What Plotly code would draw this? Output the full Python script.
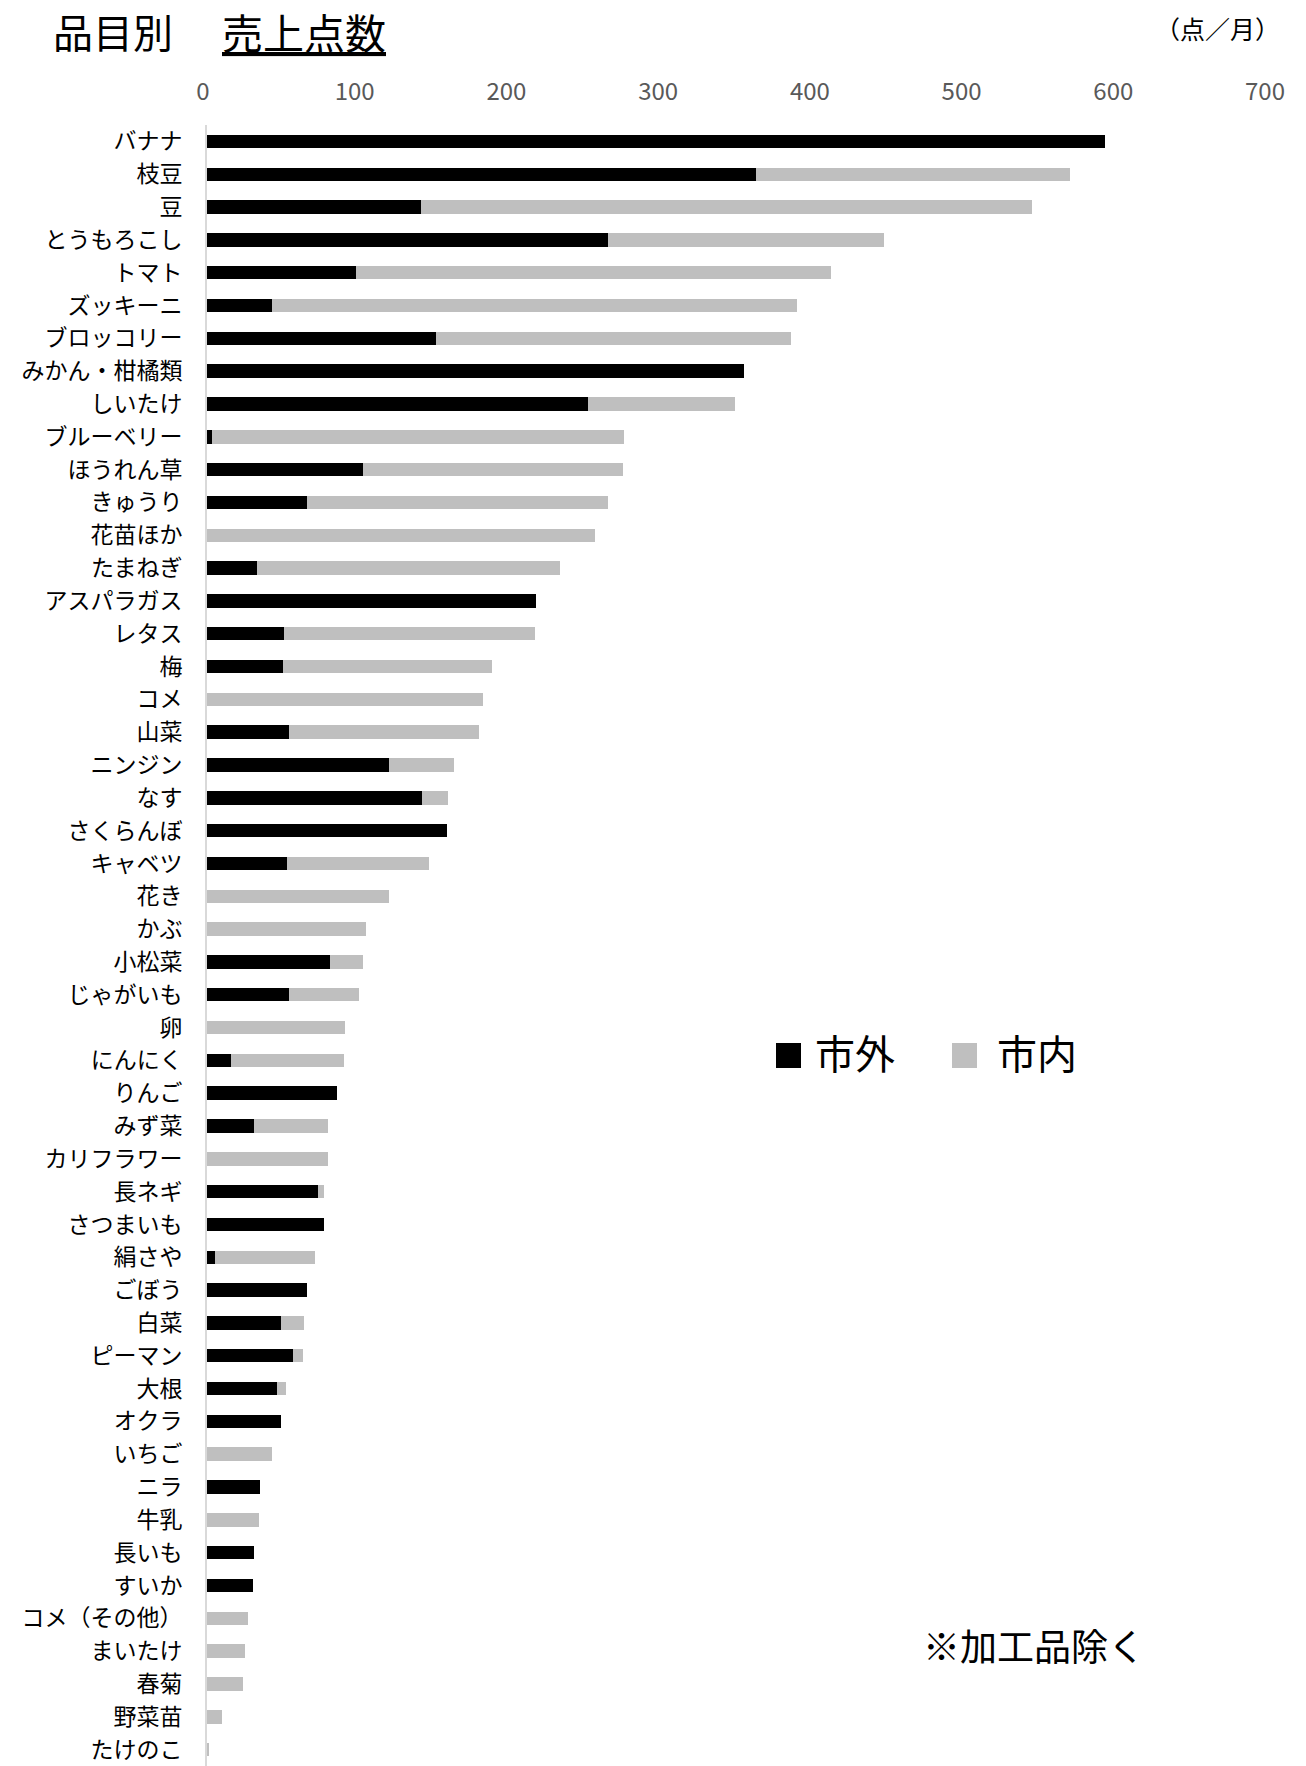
import plotly.graph_objects as go

categories = ["バナナ", "枝豆", "豆", "とうもろこし", "トマト", "ズッキーニ", "ブロッコリー",
              "みかん・柑橘類", "しいたけ", "ブルーベリー", "ほうれん草", "きゅうり", "花苗ほか",
              "たまねぎ", "アスパラガス", "レタス", "梅", "コメ", "山菜", "ニンジン", "なす",
              "さくらんぼ", "キャベツ", "花き", "かぶ", "小松菜", "じゃがいも", "卵", "にんにく",
              "りんご", "みず菜", "カリフラワー", "長ネギ", "さつまいも", "絹さや", "ごぼう", "白菜",
              "ピーマン", "大根", "オクラ", "いちご", "ニラ", "牛乳", "長いも", "すいか",
              "コメ（その他）", "まいたけ", "春菊", "野菜苗", "たけのこ"]

shigai = [592, 362, 141, 264, 98, 43, 151,
          354, 251, 3, 103, 66, 0,
          33, 217, 51, 50, 0, 54, 120, 142,
          158, 53, 0, 0, 81, 54, 0, 16,
          86, 31, 0, 73, 77, 5, 66, 49,
          57, 46, 49, 0, 35, 0, 31, 30,
          0, 0, 0, 0, 0]

shinai = [0, 207, 403, 182, 313, 346, 234,
          0, 97, 272, 171, 198, 256,
          200, 0, 165, 138, 182, 125, 43, 17,
          0, 93, 120, 105, 22, 46, 91, 74,
          0, 49, 80, 4, 0, 66, 0, 15,
          6, 6, 0, 43, 0, 34, 0, 0,
          27, 25, 24, 10, 1]

x_ticks = [0, 100, 200, 300, 400, 500, 600, 700]
series_names = ["市外", "市内"]
colors = ["#000000", "#BFBFBF"]

W, H = 1306, 1766
L, R, T, B = 207, 37, 125, 0
PW, PH = W - L - R, H - T - B
FONT = "Noto Sans CJK JP"


def px(x):
    return (x - L) / PW


def py(y):
    return (H - B - y) / PH


fig = go.Figure()
for name, vals, col in zip(series_names, [shigai, shinai], colors):
    fig.add_trace(go.Bar(
        y=categories, x=vals, name=name, orientation="h",
        marker=dict(color=col, line=dict(width=0)),
        showlegend=False,
    ))

fig.update_layout(
    width=W, height=H,
    margin=dict(l=L, r=R, t=T, b=B, pad=0),
    paper_bgcolor="white", plot_bgcolor="white",
    barmode="stack", bargap=0.59,
    font=dict(family=FONT, color="#000000"),
    xaxis=dict(
        side="top", range=[0, 700], tickvals=x_ticks,
        showgrid=False, zeroline=False, showline=False,
        ticks="", tickfont=dict(size=24, color="#595959", family=FONT),
        ticklabelstandoff=19, ticklabelshift=-4,
    ),
    yaxis=dict(
        categoryorder="array", categoryarray=categories,
        autorange="reversed",
        showgrid=False, zeroline=False,
        showline=True, linecolor="#D9D9D9", linewidth=2,
        ticks="", tickfont=dict(size=23, color="#000000", family=FONT),
        ticklabelstandoff=18,
    ),
)

annotations = [
    dict(text="品目別", x=px(52), y=py(31), xref="paper", yref="paper",
         xanchor="left", yanchor="middle", showarrow=False, borderpad=0,
         font=dict(size=40, color="#000000", family=FONT)),
    dict(text="<u>売上点数</u>", x=px(221), y=py(31), xref="paper", yref="paper",
         xanchor="left", yanchor="middle", showarrow=False, borderpad=0,
         font=dict(size=41, color="#000000", family=FONT)),
    dict(text="（点／月）", x=px(1282), y=py(28), xref="paper", yref="paper",
         xanchor="right", yanchor="middle", showarrow=False,
         font=dict(size=25, color="#000000", family=FONT)),
    dict(text=series_names[0], x=px(813), y=py(1052), xref="paper", yref="paper",
         xanchor="left", yanchor="middle", showarrow=False,
         font=dict(size=40, color="#000000", family=FONT)),
    dict(text=series_names[1], x=px(995), y=py(1052), xref="paper", yref="paper",
         xanchor="left", yanchor="middle", showarrow=False,
         font=dict(size=40, color="#000000", family=FONT)),
    dict(text="※加工品除く", x=px(921), y=py(1645), xref="paper", yref="paper",
         xanchor="left", yanchor="middle", showarrow=False,
         font=dict(size=37, color="#000000", family=FONT)),
]
fig.update_layout(annotations=annotations)

shapes = [
    dict(type="rect", xref="paper", yref="paper", x0=px(776), x1=px(801),
         y0=py(1068), y1=py(1043), fillcolor=colors[0], line=dict(width=0)),
    dict(type="rect", xref="paper", yref="paper", x0=px(952), x1=px(977),
         y0=py(1068), y1=py(1043), fillcolor=colors[1], line=dict(width=0)),
]
fig.update_layout(shapes=shapes)

fig.write_html("out.html", config={"displayModeBar": False},
               post_script="document.body.style.margin='0';document.body.style.overflow='hidden';")
